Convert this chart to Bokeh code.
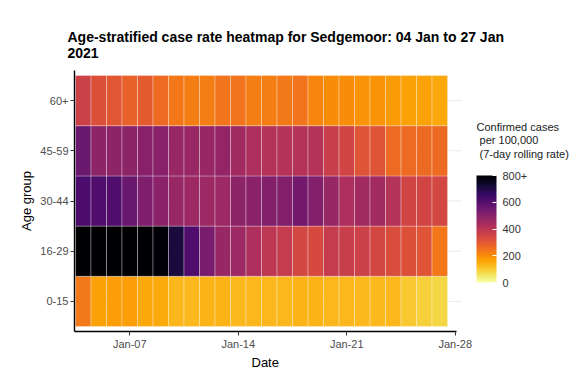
import datetime as dt
from bokeh.plotting import figure
from bokeh.models import (ColumnDataSource, LinearColorMapper, ColorBar, FixedTicker,
                          DatetimeTickFormatter, Range1d, Label, Title)
from bokeh.palettes import Inferno256
from bokeh.embed import file_html
from bokeh.resources import INLINE

# ---------------- data ----------------
dates = ["2021-01-04", "2021-01-05", "2021-01-06", "2021-01-07", "2021-01-08", "2021-01-09",
         "2021-01-10", "2021-01-11", "2021-01-12", "2021-01-13", "2021-01-14", "2021-01-15",
         "2021-01-16", "2021-01-17", "2021-01-18", "2021-01-19", "2021-01-20", "2021-01-21",
         "2021-01-22", "2021-01-23", "2021-01-24", "2021-01-25", "2021-01-26", "2021-01-27"]
age_groups = ["0-15", "16-29", "30-44", "45-59", "60+"]

rate_0_15 = [235, 165, 170, 170, 155, 150, 130, 125, 135, 135, 125, 130,
             130, 130, 135, 135, 130, 130, 125, 125, 130, 100, 90, 80]
rate_16_29 = [900, 900, 900, 900, 900, 790, 715, 610, 530, 470, 460, 430,
              395, 380, 345, 340, 380, 370, 360, 345, 330, 320, 310, 240]
rate_30_44 = [620, 610, 610, 560, 520, 495, 470, 460, 460, 460, 490, 495,
              515, 515, 545, 515, 470, 430, 450, 450, 415, 350, 350, 345]
rate_45_59 = [560, 490, 490, 490, 500, 500, 470, 470, 470, 480, 450, 430,
              410, 410, 410, 410, 370, 350, 310, 310, 265, 265, 265, 265]
rate_60p = [360, 320, 305, 280, 295, 265, 240, 225, 225, 245, 245, 225,
            225, 235, 245, 215, 200, 200, 190, 190, 175, 165, 165, 155]

series = [rate_0_15, rate_16_29, rate_30_44, rate_45_59, rate_60p]
legend_ticks = [0, 200, 400, 600, 800]
x_ticks = ["2021-01-07", "2021-01-14", "2021-01-21", "2021-01-28"]
legend_title = ["Confirmed cases", "\u00a0per 100,000", "\u00a0(7-day rolling rate)"]

# ---------------- build table ----------------
def to_dt(s):
    return dt.datetime.strptime(s, "%Y-%m-%d")

xs, ys, vals = [], [], []
for gi, vals_g in enumerate(series):
    for d, v in zip(dates, vals_g):
        xs.append(to_dt(d))
        ys.append(gi)
        vals.append(v)
src = ColumnDataSource(dict(x=xs, y=ys, v=vals))

DAY_MS = 86400000
def ms(d):
    return (d - dt.datetime(1970, 1, 1)).total_seconds() * 1000

# geometry (pixels). The frame is widened to the canvas edge so that the
# legend title (a Label) is not clipped; the panel itself ends at PANEL_R.
FL, FT, FB = 74, 70, 331
PANEL_R = 462
W, H = 581, 372
DAY_PX = 388 / 25.03
x0 = ms(to_dt(dates[0])) - 0.565 * DAY_MS
x1 = x0 + (W - FL) / DAY_PX * DAY_MS
x_panel_end = x0 + (PANEL_R - 1 - FL) / DAY_PX * DAY_MS
y0, y1 = -0.6, 4.6

palette = list(reversed(Inferno256))
mapper = LinearColorMapper(palette=palette, low=0, high=800, high_color=Inferno256[0])

FONT = "Liberation Sans"

p = figure(width=W, height=H, output_backend="svg", toolbar_location=None,
           x_axis_type="datetime", x_range=Range1d(x0, x1), y_range=Range1d(y0, y1),
           min_border_left=FL, min_border_right=0, min_border_top=FT,
           min_border_bottom=H - FB)
p.outline_line_color = None
p.background_fill_color = "white"

# horizontal grid lines (panel only)
p.xgrid.grid_line_color = None
p.ygrid.grid_line_color = None
gy = list(range(len(age_groups)))
p.segment(x0=[x0] * len(gy), x1=[x_panel_end] * len(gy), y0=gy, y1=gy,
          line_color="#EBEBEB", line_width=1, level="underlay")

p.rect(x="x", y="y", width=DAY_MS, height=1, source=src,
       fill_color={"field": "v", "transform": mapper},
       line_color="white", line_alpha=0.3, line_width=1)

# title
p.title.text = "Age-stratified case rate heatmap for Sedgemoor: 04 Jan to 27 Jan\n2021"
p.title.text_font = FONT
p.title.text_font_size = "14px"
p.title.text_font_style = "bold"
p.title.text_color = "black"
p.title.align = "left"
p.title.offset = -7
p.title.standoff = 20

# axes
p.xaxis.ticker = FixedTicker(ticks=[ms(to_dt(t)) for t in x_ticks])
p.xaxis.formatter = DatetimeTickFormatter(days="%b-%d", months="%b-%d")
p.xaxis.bounds = (x0, ms(to_dt(x_ticks[-1])) + 0.1 * DAY_MS)
p.yaxis.ticker = FixedTicker(ticks=gy)
p.yaxis.major_label_overrides = {i: a for i, a in enumerate(age_groups)}
p.yaxis.axis_label = "Age group"
for ax in (p.xaxis[0], p.yaxis[0]):
    ax.axis_line_color = "black"
    ax.axis_line_width = 1.4
    ax.major_tick_line_color = "#333333"
    ax.major_tick_in = 0
    ax.major_tick_out = 4
    ax.minor_tick_line_color = None
    ax.major_label_text_font = FONT
    ax.major_label_text_font_size = "11px"
    ax.major_label_text_color = "#4D4D4D"
    ax.major_label_standoff = 2
    ax.axis_label_text_font = FONT
    ax.axis_label_text_font_size = "13px"
    ax.axis_label_text_font_style = "normal"
    ax.axis_label_text_color = "black"
    ax.axis_label_standoff = 3

# x-axis title, centred under the panel (not the widened frame)
p.add_layout(Title(text="Date", align="left", offset=177, standoff=1,
                   text_font=FONT, text_font_size="13px", text_font_style="normal",
                   text_color="black"), "below")

# colour bar (legend)
cb = ColorBar(color_mapper=mapper, ticker=FixedTicker(ticks=legend_ticks),
              major_label_overrides={800: "800+"},
              width=20, height=107, padding=0, location=(476 - FL, FB - 282),
              major_label_text_font=FONT, major_label_text_font_size="11px",
              major_label_text_color="#333333", label_standoff=6,
              major_tick_line_color="white", major_tick_in=4, major_tick_out=0,
              minor_tick_line_color=None, bar_line_color=None,
              border_line_color=None, background_fill_color=None)
p.add_layout(cb, "center")

# legend title (screen units are relative to the frame's bottom-left corner)
for i, line in enumerate(legend_title):
    p.add_layout(Label(x=476 - FL, y=FB - 126 - 13.5 * i, x_units="screen", y_units="screen",
                       text=line, text_font=FONT, text_font_size="11px",
                       text_color="#1A1A1A", text_baseline="middle", text_align="left"))

open("out.html", "w").write(file_html(p, INLINE))
